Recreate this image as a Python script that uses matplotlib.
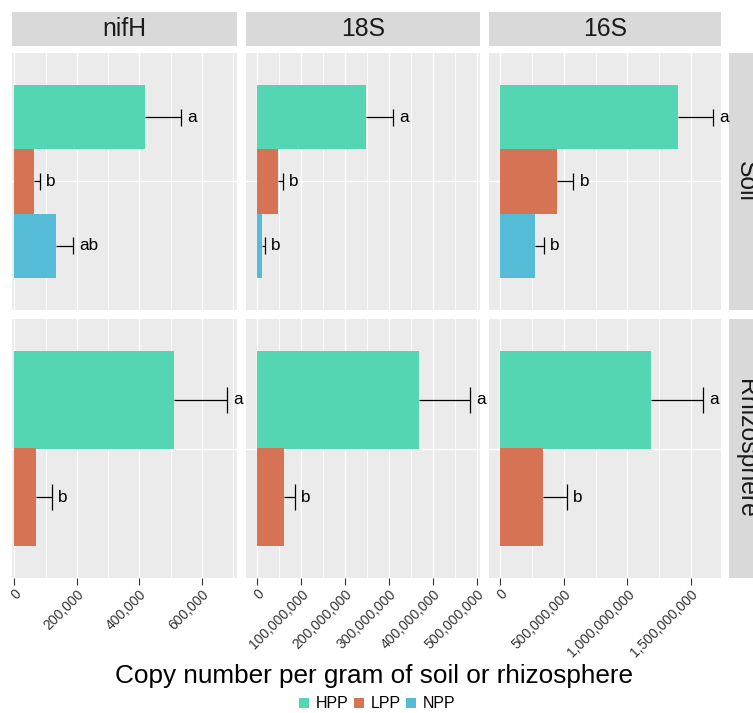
import matplotlib
matplotlib.use("Agg")
import matplotlib.pyplot as plt
from matplotlib.patches import Patch
from matplotlib.ticker import MultipleLocator, FuncFormatter

plt.rcParams['font.family'] = ['Liberation Sans', 'DejaVu Sans']

# data
genes = ['nifH', '18S', '16S']
sites = ['Soil', 'Rhizosphere']
treatments = ['HPP', 'LPP', 'NPP']
colors = {'HPP': '#55D6B2', 'LPP': '#D77355', 'NPP': '#56BBD7'}

soil_means = [[417000, 64000, 134000],
              [248e6, 48e6, 11.4e6],
              [1397e6, 446e6, 273e6]]
soil_se = [[115000, 18000, 53000],
           [62e6, 10.5e6, 5.5e6],
           [275e6, 129e6, 69e6]]
soil_letters = [['a', 'b', 'ab'], ['a', 'b', 'b'], ['a', 'b', 'b']]

rhizo_means = [[512000, 70500],
               [368e6, 60e6],
               [1187e6, 339e6]]
rhizo_se = [[170000, 50500],
            [116e6, 25e6],
            [409e6, 186e6]]
rhizo_letters = [['a', 'b'], ['a', 'b'], ['a', 'b']]

xlims = [(-7.4e3, 713.8e3), (-25.7e6, 507.3e6), (-86.6e6, 1735e6)]
major_step = [200e3, 100e6, 500e6]
minor_step = [100e3, 50e6, 250e6]

# layout in pixels
W, H = 753, 713
col_x = [(12, 237.3), (246, 480), (489.3, 720.7)]
row_y = [(53, 310), (319, 578)]
strip_top = (12, 45.7)
strip_right = (729.3, 763)


def box(x0, x1, y0, y1):
    return [x0 / W, 1 - y1 / H, (x1 - x0) / W, (y1 - y0) / H]


fig = plt.figure(figsize=(W / 100, H / 100), dpi=100)
fmt = FuncFormatter(lambda v, p: '{:,.0f}'.format(v))

for r, site in enumerate(sites):
    means_all = soil_means if r == 0 else rhizo_means
    se_all = soil_se if r == 0 else rhizo_se
    let_all = soil_letters if r == 0 else rhizo_letters
    for c, gene in enumerate(genes):
        ax = fig.add_axes(box(col_x[c][0], col_x[c][1], row_y[r][0], row_y[r][1]))
        ax.set_zorder(2)
        ax.set_facecolor('#EBEBEB')
        for s in ax.spines.values():
            s.set_visible(False)
        ax.set_xlim(xlims[c])
        ax.set_ylim(-0.6, 0.6)
        ax.xaxis.set_major_locator(MultipleLocator(major_step[c]))
        ax.xaxis.set_minor_locator(MultipleLocator(minor_step[c]))
        ax.xaxis.set_major_formatter(fmt)
        ax.set_yticks([0])
        ax.set_axisbelow(True)
        ax.grid(which='major', color='white', lw=1.0)
        ax.grid(which='minor', axis='x', color='white', lw=0.6)
        ax.tick_params(axis='y', length=0, labelleft=False)
        ax.tick_params(axis='x', which='minor', length=0)
        if r == 1:
            ax.tick_params(axis='x', which='major', length=5, width=0.8,
                           color='#333333', labelsize=10,
                           labelcolor='#333333', pad=1.5)
            for lab in ax.get_xticklabels():
                lab.set_rotation(45)
                lab.set_ha('right')
                lab.set_va('top')
                lab.set_rotation_mode('anchor')
        else:
            ax.tick_params(axis='x', which='major', length=0, labelbottom=False)

        means = means_all[c]
        ses = se_all[c]
        n = len(means)
        h = 0.9 / n
        ys = [0.45 - (i + 0.5) * h for i in range(n)]
        tr = treatments[:n]
        ax.barh(ys, means, height=h, color=[colors[t] for t in tr], zorder=2)
        caps = [m + s for m, s in zip(means, ses)]
        ax.hlines(ys, means, caps, color='black', lw=0.9, zorder=1.5)
        ax.vlines(caps, [y - 0.136 * h for y in ys], [y + 0.136 * h for y in ys],
                  color='black', lw=0.9, zorder=1.5)
        for y, cx, lt in zip(ys, caps, let_all[c]):
            ax.annotate(lt, (cx, y), xytext=(4.5, 0), textcoords='offset points',
                        ha='left', va='center', fontsize=12.3, color='black',
                        annotation_clip=False)

        if r == 0:
            sx = fig.add_axes(box(col_x[c][0], col_x[c][1], strip_top[0], strip_top[1]))
            sx.set_facecolor('#D9D9D9')
            sx.set_xticks([]); sx.set_yticks([])
            for s in sx.spines.values():
                s.set_visible(False)
            sx.text(0.5, 0.5, gene, ha='center', va='center', fontsize=17.8,
                    color='#1A1A1A', transform=sx.transAxes)

    rx = fig.add_axes(box(strip_right[0], strip_right[1], row_y[r][0], row_y[r][1]))
    rx.set_zorder(1)
    rx.set_facecolor('#D9D9D9')
    rx.set_xticks([]); rx.set_yticks([])
    for s in rx.spines.values():
        s.set_visible(False)
    rx.text(0.5, 0.5, site, ha='center', va='center', rotation=-90,
            fontsize=17.8, color='#1A1A1A', transform=rx.transAxes)

fig.text(374 / W, 1 - 683.5 / H, 'Copy number per gram of soil or rhizosphere',
         ha='center', va='baseline', fontsize=18.8, color='black')

handles = [Patch(facecolor=colors[t], edgecolor='none', label=t) for t in treatments]
fig.legend(handles=handles, loc='center', bbox_to_anchor=(377.5 / W, 1 - 704 / H),
           ncol=3, frameon=False, fontsize=11.5, handlelength=0.64,
           handleheight=0.64, handletextpad=0.42, columnspacing=0.32,
           borderpad=0, borderaxespad=0)

fig.savefig('out.png', dpi=100)
